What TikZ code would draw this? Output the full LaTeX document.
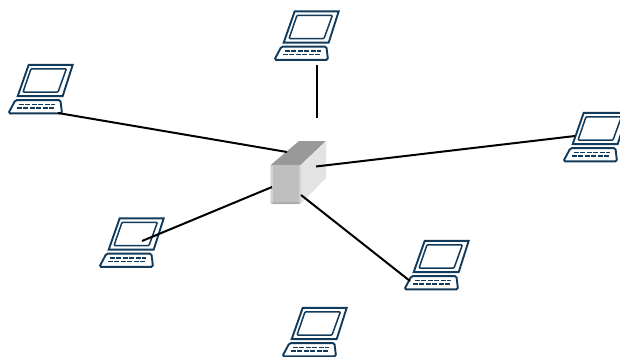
\documentclass[tikz,border=0pt]{standalone}
\definecolor{lapblue}{HTML}{123A5A}
\tikzset{
	wire/.style={draw=black,line width=2pt},
	laptop/.pic={
		\draw[lapblue,line width=1.9pt,line join=miter] (21,1) -- (65,1) -- (55,32.3) -- (10,32.3) -- cycle;
		\draw[lapblue,line width=1.5pt,rounded corners=1pt] (23.3,5) -- (58.7,5) -- (50.3,28.3) -- (15.3,28.3) -- cycle;
		\draw[lapblue,line width=1.9pt,rounded corners=1.5pt] (7.7,36.3) -- (52.7,36.3) -- (54.3,49.5) -- (0.7,49.5) -- cycle;
		\draw[lapblue,line width=1.5pt,dash pattern=on 5pt off 1.5pt] (11,40.5) -- (47,40.5);
		\draw[lapblue,line width=1.5pt,dash pattern=on 5pt off 1.5pt] (9,44) -- (46,44);
	}
}
\begin{document}
\begin{tikzpicture}[x=1pt,y=-1pt]
	\useasboundingbox (0,0) rectangle (620,356);
	% laptops
	\path (273.7,10.3) pic (lapTop) {laptop};
	\path (7.7,63.8) pic (lapLeft) {laptop};
	\path (98.7,217.3) pic (lapLow) {laptop};
	\path (403.7,239.8) pic (lapRight) {laptop};
	\path (562.7,111.8) pic (lapFar) {laptop};
	\path (281.7,306.8) pic (lapBottom) {laptop};
	% switch box
	\fill[black!40] (270.7,165) -- (299,141) -- (326,141) -- (300.7,165) -- cycle;
	\fill[black!11] (300.7,165) -- (326,141) -- (326,178) -- (300.7,204) -- cycle;
	\fill[black!25,rounded corners=1pt] (270.7,165) rectangle (300.7,204);
	\fill[black!32] (272,201.5) rectangle (300,204);
	\fill[black!18] (270.7,166) rectangle (272.5,203);
	\fill[black!18] (299.3,166) rectangle (300.7,203);
	% connector ends
	\coordinate (tTop) at (317,65);
	\coordinate (sTop) at (317,118);
	\coordinate (tLeft) at (58,113);
	\coordinate (sLeft) at (287,152);
	\coordinate (tFar) at (575,136);
	\coordinate (sFar) at (316,166.5);
	\coordinate (tLow) at (142,241);
	\coordinate (sLow) at (272,187);
	\coordinate (tRight) at (410,281);
	\coordinate (sRight) at (301,195);
	\draw[wire] (tTop) -- (sTop);
	\draw[wire] (tLeft) -- (sLeft);
	\draw[wire] (tFar) -- (sFar);
	\draw[wire] (tLow) -- (sLow);
	\draw[wire] (tRight) -- (sRight);
\end{tikzpicture}
\end{document}
